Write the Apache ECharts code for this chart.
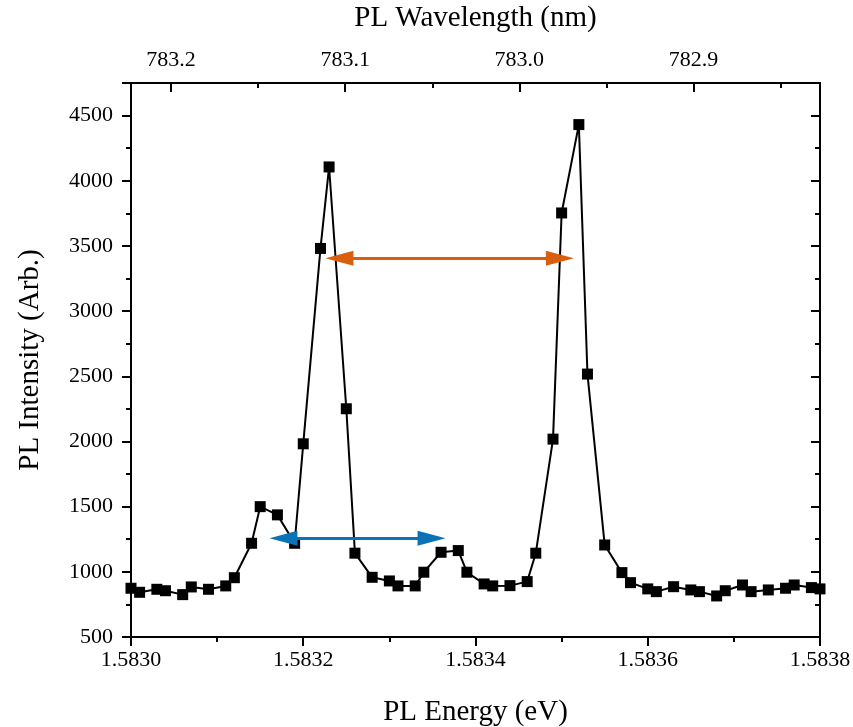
<!DOCTYPE html>
<html>
<head>
<meta charset="utf-8">
<script src="https://cdn.jsdelivr.net/npm/echarts@6/dist/echarts.min.js"></script>
<style>
html,body{margin:0;padding:0;background:#fff;}
#chart{width:853px;height:727px;}
</style>
</head>
<body>
<div id="chart"></div>
<script>
// PL energy (eV) of each measured point
var energy = [
  1.58300, 1.58301, 1.58303, 1.58304, 1.58306, 1.58307, 1.58309, 1.58311, 1.58312, 1.58314,
  1.58315, 1.58317, 1.58319, 1.58320, 1.58322, 1.58323, 1.58325, 1.58326, 1.58328, 1.58330,
  1.58331, 1.58333, 1.58334, 1.58336, 1.58338, 1.58339, 1.58341, 1.58342, 1.58344, 1.58346,
  1.58347, 1.58349, 1.58350, 1.58352, 1.58353, 1.58355, 1.58357, 1.58358, 1.58360, 1.58361,
  1.58363, 1.58365, 1.58366, 1.58368, 1.58369, 1.58371, 1.58372, 1.58374, 1.58376, 1.58377,
  1.58379, 1.58380
];
// PL intensity (Arb.)
var intensity = [
  874, 843, 866, 855, 825, 884, 866, 892, 955, 1219,
  1500, 1437, 1219, 1982, 3481, 4106, 2251, 1143, 958, 930,
  892, 892, 997, 1150, 1163, 997, 907, 892, 894, 925,
  1143, 2018, 3753, 4431, 2517, 1206, 994, 917, 869, 848,
  886, 861, 848, 815, 855, 899, 848, 861, 874, 899,
  879, 869
];
// axis tick values
var energyRange = [1.5830, 1.5838];
var energyStep = 0.0002;
var intensityRange = [500, 4750];
var intensityStep = 500;
var wavelengthMajor = [783.2, 783.1, 783.0, 782.9];
var wavelengthMinor = [783.15, 783.05, 782.95, 782.85];
// double arrows: [E start, E end, intensity level]
var orangeArrow = [1.583242, 1.583498, 3405];
var blueArrow = [1.583177, 1.583349, 1258];

var HC = 1239.84198; // eV nm
var lamAtMin = HC / energyRange[0];
var lamAtMax = HC / energyRange[1];

var points = energy.map(function (e, i) { return [e, intensity[i]]; });

var FONT = '"Liberation Serif", "Times New Roman", serif';
var TICK_FS = 22, NAME_FS = 29;
var axisLine = { show: true, onZero: false, lineStyle: { color: '#000', width: 2 } };

var chart = echarts.init(document.getElementById('chart'), null, { renderer: 'canvas' });
chart.setOption({
  backgroundColor: '#fff',
  animation: false,
  grid: { left: 131, right: 33, top: 83, bottom: 90, containLabel: false, outerBoundsMode: 'none' },
  xAxis: [
    {
      type: 'value', position: 'bottom',
      min: energyRange[0], max: energyRange[1], interval: energyStep,
      name: 'PL Energy (eV)', nameLocation: 'middle', nameGap: 61,
      nameTextStyle: { fontFamily: FONT, fontSize: NAME_FS, color: '#000' },
      axisLine: axisLine,
      axisTick: { show: true, inside: false, length: 9, lineStyle: { color: '#000', width: 2 } },
      minorTick: { show: true, splitNumber: 2, length: 5, lineStyle: { color: '#000', width: 2 } },
      axisLabel: { fontFamily: FONT, fontSize: TICK_FS, color: '#000', margin: 12,
        formatter: function (v) { return v.toFixed(4); } },
      splitLine: { show: false }
    },
    {
      type: 'value', position: 'top', inverse: true,
      min: lamAtMax, max: lamAtMin,
      name: 'PL Wavelength (nm)', nameLocation: 'middle', nameGap: 50,
      nameTextStyle: { fontFamily: FONT, fontSize: NAME_FS, color: '#000' },
      axisLine: axisLine,
      axisTick: { show: true, inside: true, length: 9, customValues: wavelengthMajor,
        lineStyle: { color: '#000', width: 2 } },
      axisLabel: { show: true, fontFamily: FONT, fontSize: TICK_FS, color: '#000', margin: 12,
        customValues: wavelengthMajor,
        formatter: function (v) { return v.toFixed(1); } },
      splitLine: { show: false }
    },
    {
      type: 'value', position: 'top', inverse: true,
      min: lamAtMax, max: lamAtMin,
      axisLine: axisLine,
      axisTick: { show: true, inside: true, length: 5, customValues: wavelengthMinor,
        lineStyle: { color: '#000', width: 2 } },
      axisLabel: { show: false },
      splitLine: { show: false }
    }
  ],
  yAxis: [
    {
      type: 'value', position: 'left',
      min: intensityRange[0], max: intensityRange[1], interval: intensityStep,
      name: 'PL Intensity (Arb.)', nameLocation: 'middle', nameGap: 86,
      nameTextStyle: { fontFamily: FONT, fontSize: NAME_FS, color: '#000' },
      axisLine: axisLine,
      axisTick: { show: true, inside: false, length: 9, lineStyle: { color: '#000', width: 2 } },
      minorTick: { show: true, splitNumber: 2, length: 5, lineStyle: { color: '#000', width: 2 } },
      axisLabel: { fontFamily: FONT, fontSize: TICK_FS, color: '#000', margin: 18, showMaxLabel: false,
        formatter: function (v) { return String(v); } },
      splitLine: { show: false }
    },
    {
      type: 'value', position: 'right',
      min: intensityRange[0], max: intensityRange[1], interval: intensityStep,
      axisLine: axisLine,
      axisTick: { show: true, inside: true, length: 9, lineStyle: { color: '#000', width: 2 } },
      minorTick: { show: true, splitNumber: 2, length: 5, lineStyle: { color: '#000', width: 2 } },
      axisLabel: { show: false },
      splitLine: { show: false }
    }
  ],
  series: [
    {
      type: 'line', xAxisIndex: 0, yAxisIndex: 0,
      data: points,
      symbol: 'rect', symbolSize: 11, showAllSymbol: true,
      itemStyle: { color: '#000' },
      lineStyle: { color: '#000', width: 2 },
      z: 3,
      markLine: {
        silent: true, animation: false,
        symbol: ['triangle', 'triangle'], symbolSize: [15, 28],
        label: { show: false },
        data: [
          [ { coord: [orangeArrow[0], orangeArrow[2]], lineStyle: { color: '#D95F0E', width: 3, type: 'solid' }, itemStyle: { color: '#D95F0E' } },
            { coord: [orangeArrow[1], orangeArrow[2]] } ],
          [ { coord: [blueArrow[0], blueArrow[2]], lineStyle: { color: '#0B72B5', width: 3, type: 'solid' }, itemStyle: { color: '#0B72B5' } },
            { coord: [blueArrow[1], blueArrow[2]] } ]
        ]
      }
    }
  ]
});
</script>
</body>
</html>
